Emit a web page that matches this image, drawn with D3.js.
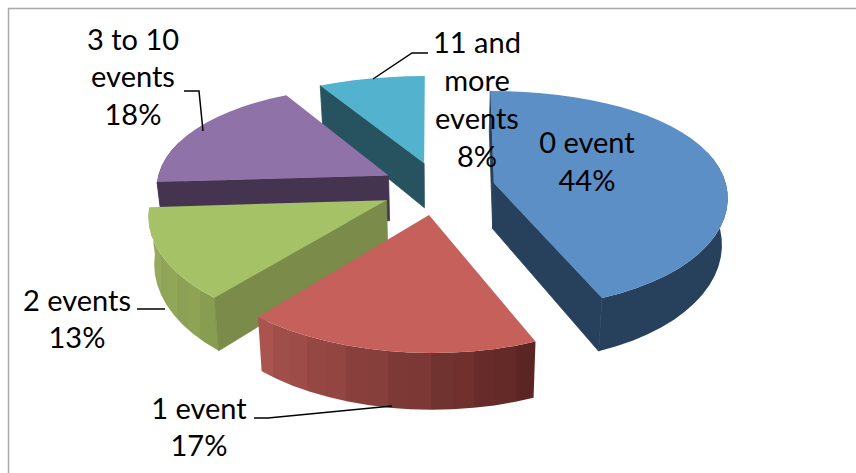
<!DOCTYPE html>
<html>
<head>
<meta charset="utf-8">
<style>
html,body{margin:0;padding:0;background:#fff;}
svg{display:block;}
text{font-family:Lato,"Noto Sans",sans-serif;font-size:29px;fill:#000;text-anchor:middle;}
</style>
<script src="https://cdn.jsdelivr.net/npm/d3@7/dist/d3.min.js"></script>
</head>
<body>
<svg id="c" width="856" height="473"></svg>
<script>
// Data
const categories = ["0 event","1 event","2 events","3 to 10 events","11 and more events"];
const values = [44,17,13,18,8];
const labels = ["44%","17%","13%","18%","8%"];
// Styles
const topColors = ["#5B8FC6","#C5605B","#A6C267","#8F72A8","#53B2CE"];
const cutColors = ["#27415C","#7F3A38","#7A8B4A","#45344F","#26535F"];
const wallStart = ["#27415C","#5C2623","#8B9F52","#45344F","#26535F"];
const wallEnd   = ["#27415C","#A8524E","#9AAF62","#45344F","#26535F"];
const paintOrder = [4,3,2,0,1];
// Label layout
const labelLines = [["0 event","44%"],["1 event","17%"],["2 events","13%"],["3 to 10","events","18%"],["11 and","more","events","8%"]];
const labelX = [587,199,77,133,477];
const labelY = [[153,191],[419,456],[311,348],[50,87,125],[53,91,129,167]];
const leaders = [null,[[254,418],[268,418],[392,406]],[[137,309],[165,309]],[[184,91],[199,91],[203,131]],[[428,53],[412,53],[373,79]]];

const cx=438, cy=188, Rx=233, ka=0.105, kb=0.035, shear=3.5, Ry=107.6, k=0.153, depth=46, explode=0.245, converge=0.02;
const svg=d3.select("#c");
const defs=svg.append("defs");

// frame
svg.append("path").attr("d","M8.5,473V8.5H856").attr("fill","none").attr("stroke","#A9A9A9").attr("stroke-width",1.5);

function project(X,F,Z){
  const w=1-k*F;
  const fp=Math.max(F,0);
  const x=cx+(Rx*X/(1-ka*F-kb*F*F)+shear*fp*fp)*(1-converge*Z);
  const y=cy+Ry*F/w+Z*depth/w;
  return [x,y];
}
const arcs=d3.pie().sort(null).startAngle(0).endAngle(2*Math.PI)(values);
const line=d3.line();
const layer=svg.append("g");

paintOrder.forEach(i=>{
  const a=arcs[i], mid=(a.startAngle+a.endAngle)/2;
  const ox=explode*Math.sin(mid), of=-explode*Math.cos(mid);
  const pt=(ang,r,Z)=>project(ox+r*Math.sin(ang),of-r*Math.cos(ang),Z);
  const n=Math.max(2,Math.round((a.endAngle-a.startAngle)/(Math.PI/40)));
  const angs=d3.range(n+1).map(j=>a.startAngle+(a.endAngle-a.startAngle)*j/n);
  const g=layer.append("g");
  // outer wall: front-facing part only, shaded by stepped gradient
  const front=angs.filter(t=>Math.cos(t)<0.35);
  if(front.length>1){
    const x0=pt(front[0],1,0)[0], x1=pt(front[front.length-1],1,0)[0];
    const grad=defs.append("linearGradient").attr("id","wall"+i).attr("gradientUnits","userSpaceOnUse")
      .attr("x1",x0).attr("x2",x1).attr("y1",0).attr("y2",0);
    const col=d3.interpolateRgb(wallStart[i],wallEnd[i]);
    const m=front.length-1;
    const flat=wallStart[i]===wallEnd[i];
    d3.range(m).forEach(j=>{
      const base=d3.color(col(j/Math.max(1,m-1)));
      const tone=flat?base.formatHex():(j%2?base.brighter(0.04):base.darker(0.04)).formatHex();
      const o0=(pt(front[j],1,0)[0]-x0)/(x1-x0), o1=(pt(front[j+1],1,0)[0]-x0)/(x1-x0);
      grad.append("stop").attr("offset",o0).attr("stop-color",tone);
      grad.append("stop").attr("offset",o1).attr("stop-color",tone);
    });
    const outline=[...front.map(t=>pt(t,1,0)),...front.slice().reverse().map(t=>pt(t,1,1))];
    g.append("path").attr("d",line(outline)+"Z").attr("fill",`url(#wall${i})`);
  }
  // cut faces that look toward the viewer, over the wall so no seam shows
  if(-Math.sin(a.startAngle)>-0.05){
    g.append("path").attr("d",line([pt(a.startAngle,0,0),pt(a.startAngle,1,0),pt(a.startAngle,1,1),pt(a.startAngle,0,1)])+"Z")
      .attr("fill",cutColors[i]).attr("stroke",cutColors[i]).attr("stroke-width",0.8);
  }
  if(Math.sin(a.endAngle)>0.05){
    g.append("path").attr("d",line([pt(a.endAngle,0,0),pt(a.endAngle,1,0),pt(a.endAngle,1,1),pt(a.endAngle,0,1)])+"Z")
      .attr("fill",cutColors[i]).attr("stroke",cutColors[i]).attr("stroke-width",0.8);
  }
  // top face
  g.append("path").attr("d",line([pt(a.startAngle,0,0),...angs.map(t=>pt(t,1,0))])+"Z")
    .attr("fill",topColors[i]);
});

// leaders
svg.append("g").selectAll("path").data(leaders.filter(Boolean)).join("path")
  .attr("d",d=>line(d)).attr("fill","none").attr("stroke","#000").attr("stroke-width",1.5);

// labels
labelLines.forEach((ls,i)=>{
  const t=svg.append("text");
  ls.forEach((s,j)=>t.append("tspan").attr("x",labelX[i]).attr("y",labelY[i][j]).text(s));
});
</script>
</body>
</html>
